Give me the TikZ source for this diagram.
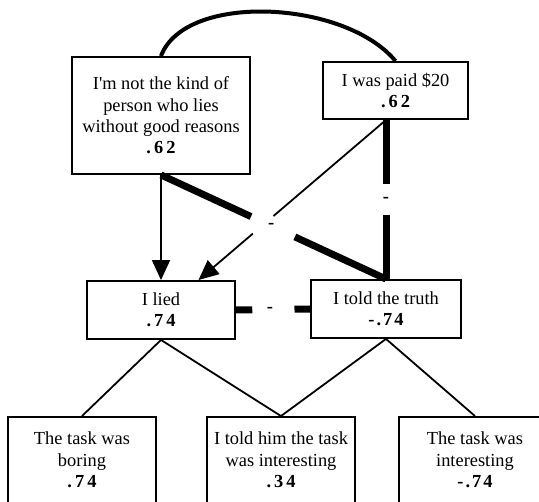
\documentclass[tikz,border=0pt]{standalone}
\usepackage{fontspec}
\setmainfont{Liberation Serif}[Ligatures=TeXOff]
\usetikzlibrary{arrows.meta,calc}
\newcommand{\bnum}[1]{\textbf{#1}}
\begin{document}
\begin{tikzpicture}[x=1pt,y=-1pt,
  box/.style={draw, line width=1.9pt, rectangle, inner sep=0pt, align=center, font=\fontsize{18.4}{21.3}\selectfont},
  txt/.style={inner sep=0pt, align=center, font=\fontsize{18.4}{21.3}\selectfont},
  thinline/.style={line width=1.8pt},
  heavy/.style={line width=7pt},
  arr/.style={thinline, -{Triangle[width=18pt,length=20pt]}},
  sign/.style={inner sep=0pt, font=\fontsize{18.4}{21.3}\selectfont\bfseries}]
\clip (0,0) rectangle (539,502);
\fill[white] (0,0) rectangle (539,502);

% boxes
\node[box, minimum width=178, minimum height=117] (a) at (161,115.5)
  {I'm not the kind of\\person who lies\\without good reasons\\\bnum{.\kern3pt6\kern3pt2}};
\node[box, minimum width=145, minimum height=57] (b) at (395.5,90.5)
  {I was paid \$20\\\bnum{.\kern3pt6\kern3pt2}};
\node[box, minimum width=148, minimum height=58] (l) at (161,310)
  {I lied\\\bnum{.\kern3pt7\kern3pt4}};
\node[box, minimum width=150, minimum height=58] (t) at (386,309)
  {I told the truth\\\bnum{-\kern2pt.\kern2pt7\kern2pt4}};
\node[box, minimum width=148, minimum height=120] (lb) at (82,477) {};
\node[box, minimum width=148, minimum height=120] (mb) at (281,477) {};
\node[box, minimum width=152, minimum height=120] (rb) at (475,477) {};
\node[txt] (lbt) at (82,460) {The task was\\boring\\\bnum{.\kern3pt7\kern3pt4}};
\node[txt] (mbt) at (281,460) {I told him the task\\was interesting\\\bnum{.\kern3pt3\kern3pt4}};
\node[txt] (rbt) at (475,460) {The task was\\interesting\\\bnum{-\kern2pt.\kern2pt7\kern2pt4}};

% arc
\draw[line width=4pt] (a.north) .. controls (185,-8) and (345,0) .. (b.north);

% arrow A -> lied
\draw[arr] (a.south) -- (l.north);

% heavy diagonal A -> truth
\draw[heavy] (a.south) -- ($(a.south)!0.40!(t.north)$);
\draw[heavy] ($(a.south)!0.595!(t.north)$) -- (t.north);
\node[sign] (m1) at ($(a.south)!0.49!(t.north)$) {-};

% B -> lied thin arrow
\coordinate (bs) at (b.south -| t.north);
\coordinate (lt) at ($(l.north)!0.5!(l.north east)$);
\draw[thinline] (bs) -- ($(bs)!0.60!(lt)$);
\draw[arr] ($(bs)!0.71!(lt)$) -- (lt);

% B -> truth heavy vertical
\draw[heavy] (bs) -- ($(bs)!0.40!(t.north)$);
\draw[heavy] ($(bs)!0.595!(t.north)$) -- (t.north);
\node[sign] (m2) at ($(bs)!0.5!(t.north)$) {-};

% lied -- truth heavy horizontal
\draw[heavy] (l.east) -- ($(l.east)!0.22!(t.west)$);
\draw[heavy] ($(l.east)!0.79!(t.west)$) -- (t.west);
\node[sign] (m3) at ($(l.east)!0.46!(t.west)$) {-};

% lower connectors
\draw[thinline] (l.south) -- (lb.north);
\draw[thinline] (l.south) -- (mb.north);
\draw[thinline] (t.south) -- (mb.north);
\draw[thinline] (t.south) -- (rb.north);
\end{tikzpicture}
\end{document}
